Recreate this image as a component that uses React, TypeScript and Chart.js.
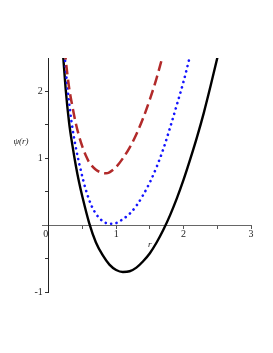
import { useEffect, useRef } from 'react';
import { Chart, registerables } from 'chart.js';

Chart.register(...registerables);

// r values and psi(r) values
const blackR = [0.19, 0.2, 0.22, 0.25, 0.3, 0.35, 0.4, 0.45, 0.5, 0.6, 0.7, 0.8, 0.9, 1.0, 1.1, 1.2, 1.3, 1.4, 1.5, 1.6, 1.7, 1.8, 1.9, 2.0, 2.1, 2.2, 2.3, 2.4, 2.5, 2.55];
const blackPsi = [2.82, 2.68, 2.45, 2.05, 1.55, 1.2, 0.9, 0.64, 0.42, 0.03, -0.26, -0.45, -0.59, -0.67, -0.7, -0.69, -0.635, -0.54, -0.42, -0.26, -0.07, 0.15, 0.4, 0.68, 0.99, 1.32, 1.68, 2.08, 2.5, 2.72];

const blueR = [0.21, 0.22, 0.24, 0.27, 0.3, 0.34, 0.4, 0.48, 0.55, 0.63, 0.7, 0.8, 0.9, 0.95, 1.0, 1.1, 1.2, 1.3, 1.4, 1.5, 1.6, 1.7, 1.8, 1.9, 2.0, 2.1, 2.15];
const bluePsi = [2.95, 2.78, 2.5, 2.13, 1.85, 1.53, 1.17, 0.8, 0.53, 0.3, 0.17, 0.06, 0.02, 0.02, 0.03, 0.09, 0.17, 0.29, 0.45, 0.64, 0.87, 1.14, 1.46, 1.8, 2.15, 2.55, 2.76];

const brownR = [0.22, 0.25, 0.3, 0.35, 0.4, 0.45, 0.5, 0.55, 0.6, 0.7, 0.8, 0.85, 0.9, 1.0, 1.1, 1.2, 1.3, 1.4, 1.5, 1.6, 1.7, 1.75];
const brownPsi = [2.85, 2.5, 2.07, 1.78, 1.53, 1.33, 1.17, 1.04, 0.94, 0.83, 0.78, 0.775, 0.79, 0.87, 1.0, 1.16, 1.36, 1.6, 1.88, 2.2, 2.57, 2.78];

const xTickValues = [0, 0.5, 1, 1.5, 2, 2.5, 3];
const xTickLabels = ['0', '', '1', '', '2', '', '3'];
const yTickValues = [-1, -0.5, 0.5, 1, 1.5, 2];
const yTickLabels = ['-1', '', '', '1', '', '2'];

const xTitle = 'r';
const yTitle = 'ψ(r)';

const toPoints = (xs: number[], ys: number[]) => xs.map((x, i) => ({ x, y: ys[i] }));

export default function App() {
  const ref = useRef<HTMLCanvasElement | null>(null);

  useEffect(() => {
    if (!ref.current) return;
    const titlePlugin = {
      id: 'axisTitles',
      beforeDraw(chart: any) {
        // move y tick labels to the left of the axis line, and "0" slightly left
        const yItems = chart.scales.y.getLabelItems();
        yItems.forEach((it: any) => {
          if (!it._shifted) {
            it.options.translation[0] -= 6;
            it._shifted = true;
          }
        });
        const xItems = chart.scales.x.getLabelItems();
        xItems.forEach((it: any) => {
          if (!it._shifted) {
            if (it.label === '0') it.options.translation[0] -= 3;
            it.options.translation[1] -= 1;
            it._shifted = true;
          }
        });
      },
      afterDraw(chart: any) {
        const ctx = chart.ctx;
        const xs = chart.scales.x;
        const ys = chart.scales.y;
        ctx.save();
        ctx.fillStyle = '#222';
        ctx.font = 'italic 9px "Liberation Serif"';
        ctx.textAlign = 'center';
        ctx.textBaseline = 'middle';
        ctx.fillText(xTitle, xs.getPixelForValue(1.5), ys.getPixelForValue(0) + 19);
        ctx.fillText(yTitle, 21, ys.getPixelForValue(1.25));
        ctx.restore();
      },
    };

    const chart = new Chart(ref.current, {
      type: 'line',
      data: {
        datasets: [
          {
            data: toPoints(brownR, brownPsi),
            borderColor: '#b22a2a',
            borderWidth: 2.5,
            borderDash: [10, 5],
            pointRadius: 0,
            cubicInterpolationMode: 'monotone',
            fill: false,
          },
          {
            data: toPoints(blueR, bluePsi),
            borderColor: '#1414ff',
            borderWidth: 2.6,
            borderDash: [0.1, 5.4],
            borderCapStyle: 'round',
            pointRadius: 0,
            cubicInterpolationMode: 'monotone',
            fill: false,
          },
          {
            data: toPoints(blackR, blackPsi),
            borderColor: '#000000',
            borderWidth: 2.4,
            pointRadius: 0,
            cubicInterpolationMode: 'monotone',
            fill: false,
          },
        ],
      },
      options: {
        animation: false,
        responsive: false,
        devicePixelRatio: 1,
        events: [],
        layout: { padding: { left: 42, right: 22, top: 58, bottom: 61 } },
        plugins: { legend: { display: false }, tooltip: { enabled: false } },
        scales: {
          x: {
            type: 'linear',
            min: -0.1,
            max: 3,
            position: { y: 0 },
            afterBuildTicks: (scale: any) => {
              scale.ticks = xTickValues.map((v) => ({ value: v }));
            },
            ticks: {
              autoSkip: false,
              maxRotation: 0,
              padding: 1,
              color: '#222',
              font: { family: '"Liberation Serif"', size: 10 },
              callback: (v: any) => {
                const i = xTickValues.indexOf(Number(v));
                return i >= 0 ? xTickLabels[i] : '';
              },
            },
            grid: { drawOnChartArea: false, drawTicks: true, tickLength: 3, color: '#555' },
            border: { display: true, color: '#666', width: 1 },
          },
          y: {
            type: 'linear',
            min: -1,
            max: 2.5,
            position: { x: 0 },
            afterBuildTicks: (scale: any) => {
              scale.ticks = yTickValues.map((v) => ({ value: v }));
            },
            ticks: {
              autoSkip: false,
              padding: 3,
              color: '#222',
              font: { family: '"Liberation Serif"', size: 10 },
              callback: (v: any) => {
                const i = yTickValues.indexOf(Number(v));
                return i >= 0 ? yTickLabels[i] : '';
              },
            },
            grid: { drawOnChartArea: false, drawTicks: true, tickLength: 3, color: '#333' },
            border: { display: true, color: '#222', width: 1 },
          },
        },
      },
      plugins: [titlePlugin],
    } as any);
    return () => chart.destroy();
  }, []);

  return (
    <div style={{ position: 'absolute', left: 0, top: 0, width: 273, height: 353, background: '#fff' }}>
      <canvas ref={ref} width={273} height={353} style={{ display: 'block', width: 273, height: 353 }} />
    </div>
  );
}
